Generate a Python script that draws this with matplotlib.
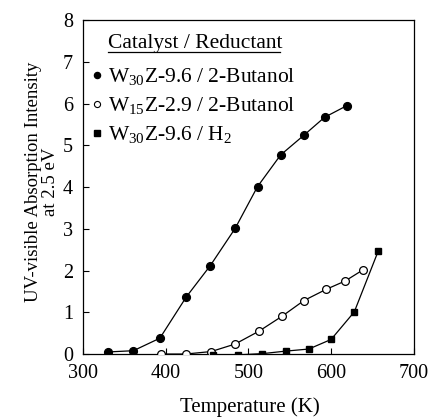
import matplotlib
matplotlib.use("Agg")
import matplotlib.pyplot as plt

plt.rcParams["font.family"] = ["Liberation Serif", "DejaVu Serif"]
plt.rcParams["mathtext.fontset"] = "custom"
plt.rcParams["mathtext.rm"] = "Liberation Serif"
plt.rcParams["mathtext.it"] = "Liberation Serif:italic"

# W30Z-9.6 reduced with 2-butanol
t_w30_but = [330, 361, 393, 425, 454, 484, 511, 539, 567, 592, 619]
i_w30_but = [0.05, 0.08, 0.38, 1.37, 2.12, 3.01, 4.01, 4.77, 5.24, 5.67, 5.95]

# W15Z-2.9 reduced with 2-butanol
t_w15_but = [394, 424, 455, 484, 513, 541, 567, 594, 617, 638]
i_w15_but = [0.0, 0.0, 0.06, 0.24, 0.55, 0.91, 1.28, 1.55, 1.75, 2.01]

# W30Z-9.6 reduced with H2
t_w30_h2 = [457, 487, 517, 545, 573, 600, 628, 657]
i_w30_h2 = [-0.03, -0.02, 0.01, 0.07, 0.12, 0.35, 1.01, 2.47]

legend_title = "Catalyst / Reductant"
labels = [r"W$_{30}$Z-9.6 / 2-Butanol",
          r"W$_{15}$Z-2.9 / 2-Butanol",
          r"W$_{30}$Z-9.6 / H$_2$"]

fig = plt.figure(figsize=(4.32, 4.18), dpi=100)
ax = fig.add_axes([0.192, 0.153, 0.766, 0.799])

lw = 0.9
styles = [
    dict(marker="o", ms=5.6, mfc="black", mec="black"),
    dict(marker="o", ms=5.6, mfc="white", mec="black", mew=0.9),
    dict(marker="s", ms=5.0, mfc="black", mec="black"),
]
series = [(t_w30_but, i_w30_but), (t_w15_but, i_w15_but), (t_w30_h2, i_w30_h2)]
for (t, v), st in zip(series, styles):
    ax.plot(t, v, "-", color="black", lw=lw, zorder=3, **st)

ax.set_xlim(300, 700)
ax.set_ylim(0, 8)
ax.set_xticks([300, 400, 500, 600, 700])
ax.set_yticks(range(0, 9))
ax.tick_params(direction="in", length=4.5, width=0.8, labelsize=14.5,
               top=False, right=False)
ax.tick_params(axis="x", pad=7)
ax.tick_params(axis="y", pad=7)
for s in ax.spines.values():
    s.set_linewidth(0.9)

ax.set_xlabel("Temperature (K)", fontsize=15)
ax.xaxis.set_label_coords(0.503, -0.130)
ax.set_ylabel("UV-visible Absorption Intensity\nat 2.5 eV", fontsize=13.5,
              linespacing=0.95)
ax.yaxis.set_label_coords(-0.073, 0.515)

# legend block: underlined heading, then one row per series
fs_leg = 15.5
x_txt, x_mk = 0.0755, 0.042
ax.text(x_txt, 0.916, legend_title, transform=ax.transAxes,
        fontsize=fs_leg, ha="left", va="baseline")
ax.plot([x_txt, 0.594], [0.904, 0.904], color="black", lw=0.9,
        transform=ax.transAxes, clip_on=False)
row_base = [0.814, 0.728, 0.641]
leg_styles = [
    dict(marker="o", ms=4.4, mfc="black", mec="black"),
    dict(marker="o", ms=4.4, mfc="white", mec="black", mew=0.8),
    dict(marker="s", ms=4.6, mfc="black", mec="black"),
]
for yb, lab, st in zip(row_base, labels, leg_styles):
    ax.plot([x_mk], [yb + 0.022], ls="none", transform=ax.transAxes,
            clip_on=False, **st)
    ax.text(x_txt, yb, lab, transform=ax.transAxes, fontsize=fs_leg,
            ha="left", va="baseline")

fig.savefig("out.png", dpi=100)
